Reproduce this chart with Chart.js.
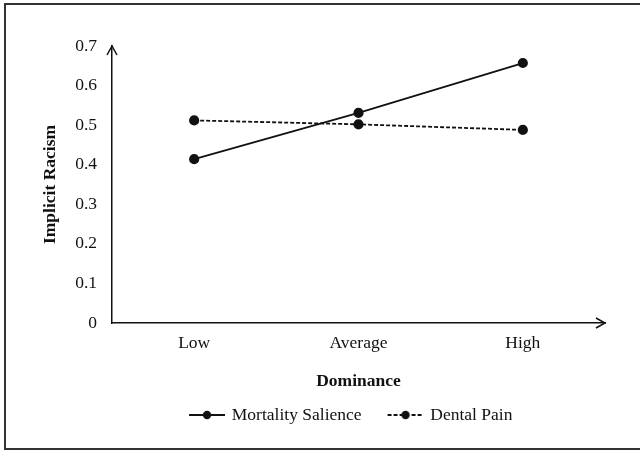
<!DOCTYPE html>
<html>
<head>
<meta charset="utf-8">
<script src="https://cdn.jsdelivr.net/npm/chart.js@4"></script>
<style>
  html, body { margin: 0; padding: 0; background: #fff; }
  .wrap { position: relative; width: 640px; height: 450px; overflow: hidden; }
  .frame { position: absolute; left: 4px; top: 3px; width: 650px; height: 443px; border: 2px solid #333; pointer-events: none; }
</style>
</head>
<body>
<div class="wrap">
  <canvas id="chart" width="640" height="450"></canvas>
  <div class="frame"></div>
</div>
<script>
// data
const categories = ['Low', 'Average', 'High'];
const mortalitySalience = [0.414, 0.531, 0.657];
const dentalPain = [0.512, 0.502, 0.488];
const yTickLabels = ['0', '0.1', '0.2', '0.3', '0.4', '0.5', '0.6', '0.7'];

const FONT = '"Liberation Serif", "Times New Roman", serif';
const FS = 17.5;
const INK = '#111';

// legend swatch: blank, then a 36px line with a dot in the middle
function swatch(dash) {
  const c = document.createElement('canvas');
  c.width = 62; c.height = 12;
  const g = c.getContext('2d');
  g.strokeStyle = INK; g.lineWidth = 1.8;
  g.setLineDash(dash);
  g.beginPath(); g.moveTo(26, 6); g.lineTo(62, 6); g.stroke();
  g.fillStyle = INK;
  g.beginPath(); g.arc(44, 6, 4.2, 0, Math.PI * 2); g.fill();
  return c;
}
const swatches = [swatch([]), swatch([4, 2])];

// arrow heads at axis ends
const axisArrows = {
  id: 'axisArrows',
  afterDraw(chart) {
    const { ctx, chartArea: a } = chart;
    ctx.save();
    ctx.strokeStyle = INK; ctx.lineWidth = 1.5;
    ctx.beginPath();
    ctx.moveTo(a.left - 5, a.top + 9); ctx.lineTo(a.left, a.top); ctx.lineTo(a.left + 5, a.top + 9);
    ctx.moveTo(a.right - 9, a.bottom - 5); ctx.lineTo(a.right, a.bottom); ctx.lineTo(a.right - 9, a.bottom + 5);
    ctx.stroke();
    ctx.restore();
  }
};

new Chart(document.getElementById('chart'), {
  type: 'line',
  data: {
    labels: categories,
    datasets: [
      { label: 'Mortality Salience', data: mortalitySalience, borderColor: INK, backgroundColor: INK, borderWidth: 1.8, pointRadius: 4.2, pointBackgroundColor: INK, tension: 0 },
      { label: 'Dental Pain', data: dentalPain, borderColor: INK, backgroundColor: INK, borderWidth: 1.8, borderDash: [4, 2], pointRadius: 4.2, pointBackgroundColor: INK, tension: 0 }
    ]
  },
  options: {
    responsive: false,
    animation: false,
    layout: { padding: { left: 37.5, right: 0, top: 46, bottom: 16.25 } },
    plugins: {
      tooltip: { enabled: false },
      legend: {
        position: 'bottom',
        labels: {
          usePointStyle: true,
          pointStyleWidth: 58,
          color: INK,
          font: { family: FONT, size: FS },
          padding: 2,
          generateLabels(chart) {
            const items = Chart.defaults.plugins.legend.labels.generateLabels(chart);
            items.forEach((it, i) => { it.pointStyle = swatches[i]; });
            return items;
          }
        }
      }
    },
    scales: {
      x: {
        offset: true,
        grid: { display: false, drawTicks: false },
        border: { display: true, color: INK, width: 1.5 },
        ticks: { color: INK, font: { family: FONT, size: FS }, padding: 9.5 },
        title: { display: true, text: 'Dominance', color: INK, font: { family: FONT, size: FS, weight: 'bold' }, padding: { top: 0, bottom: 12.75 } },
        afterFit(scale) { scale.height = 81.25; }
      },
      y: {
        min: 0, max: 0.7,
        grid: { display: false, drawTicks: false },
        border: { display: true, color: INK, width: 1.5 },
        ticks: { stepSize: 0.1, color: INK, font: { family: FONT, size: FS }, padding: 15,
          callback: (v, i) => yTickLabels[i] },
        title: { display: true, text: 'Implicit Racism', color: INK, font: { family: FONT, size: FS, weight: 'bold' }, padding: { top: 2, bottom: 0 } },
        afterFit(scale) { scale.width = 74.5; }
      },
      // empty right-hand space so the plot ends where the reference's x arrow ends
      yRight: {
        position: 'right',
        min: 0, max: 0.7,
        grid: { display: false, drawTicks: false },
        border: { display: false },
        ticks: { display: false },
        afterFit(scale) { scale.width = 35; }
      }
    }
  },
  plugins: [axisArrows]
});
</script>
</body>
</html>
